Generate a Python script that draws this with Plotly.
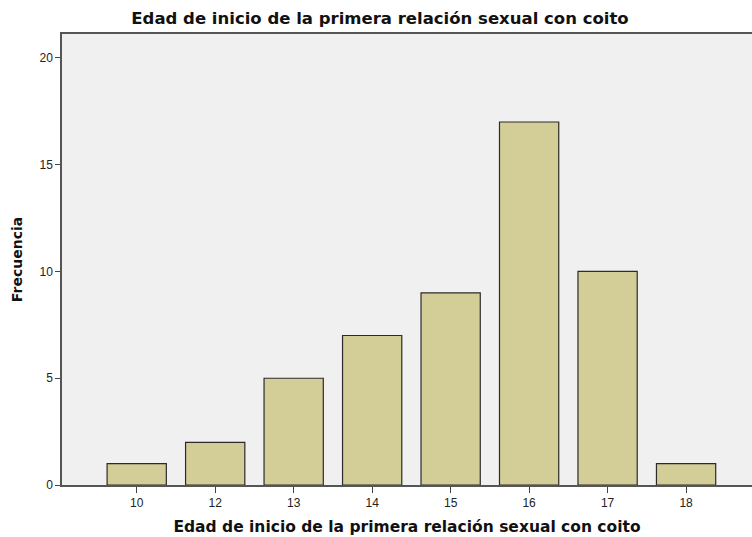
import plotly.graph_objects as go

categories = ["10", "12", "13", "14", "15", "16", "17", "18"]
frequencies = [1, 2, 5, 7, 9, 17, 10, 1]
y_ticks = [0, 5, 10, 15, 20]

title_text = "Edad de inicio de la primera relación sexual con coito"
x_title = "Edad de inicio de la primera relación sexual con coito"
y_title = "Frecuencia"

TITLE_FONT = "DejaVu Sans, Verdana, sans-serif"

fig = go.Figure(
    go.Bar(
        x=categories,
        y=frequencies,
        width=0.755,
        marker=dict(color="#D3CE98", line=dict(color="#2b2b2b", width=1.2)),
    )
)

fig.update_layout(
    width=752,
    height=537,
    margin=dict(l=62, r=0, t=34, b=52, autoexpand=False),
    paper_bgcolor="white",
    plot_bgcolor="#F0F0F0",
    showlegend=False,
    font=dict(family="Liberation Sans, Arial, sans-serif", color="#222222"),
    title=dict(
        text="<b>" + title_text + "</b>",
        x=380 / 752,
        xref="container",
        xanchor="center",
        y=1 - 18 / 537,
        yref="container",
        yanchor="middle",
        font=dict(size=16.5, color="#111111", family=TITLE_FONT),
    ),
)

fig.update_xaxes(
    type="category",
    range=[-0.952, 7.84],
    showline=True,
    linecolor="#555555",
    linewidth=1.5,
    mirror=True,
    ticks="outside",
    ticklen=6,
    tickcolor="#444444",
    tickfont=dict(size=12, color="#222222"),
    showgrid=False,
    automargin=False,
    title=dict(
        text="<b>" + x_title + "</b>",
        font=dict(size=15.5, color="#111111", family=TITLE_FONT),
        standoff=12,
    ),
)

fig.update_yaxes(
    range=[0, 21.12],
    tickvals=y_ticks,
    showline=True,
    linecolor="#555555",
    linewidth=1.5,
    ticks="outside",
    ticklen=5,
    tickcolor="#444444",
    tickfont=dict(size=12, color="#222222"),
    showgrid=False,
    zeroline=False,
    automargin=False,
    title=dict(
        text="<b>" + y_title + "</b>",
        font=dict(size=14, color="#111111", family=TITLE_FONT),
        standoff=14,
    ),
)

fig.write_html(
    "out.html",
    config={"displayModeBar": False},
    post_script="document.body.style.margin='0';",
)
